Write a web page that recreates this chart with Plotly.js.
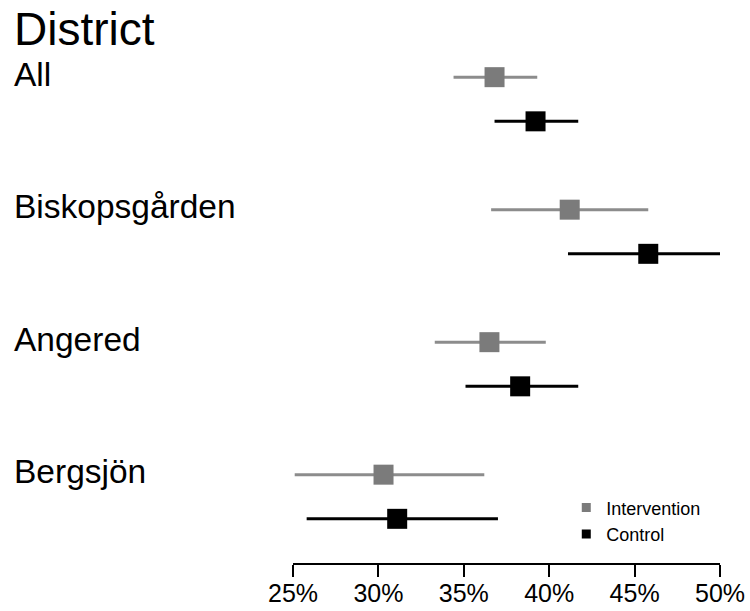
<!DOCTYPE html>
<html>
<head>
<meta charset="utf-8">
<script src="https://cdn.plot.ly/plotly-3.0.1.min.js"></script>
<style>html,body{margin:0;padding:0;background:#fff;}#chart{width:750px;height:611px;}</style>
</head>
<body>
<div id="chart"></div>
<script>
// Data (percent)
const districts = ['All', 'Biskopsgården', 'Angered', 'Bergsjön'];
const interventionEst  = [36.8, 41.2, 36.5, 30.3];
const interventionLow  = [34.4, 36.6, 33.3, 25.1];
const interventionHigh = [39.3, 45.8, 39.8, 36.2];
const controlEst  = [39.2, 45.8, 38.3, 31.1];
const controlLow  = [36.8, 41.1, 35.1, 25.8];
const controlHigh = [41.7, 50.0, 41.7, 37.0];
const xTicks = [25, 30, 35, 40, 45, 50];

const FONT = 'Liberation Sans, Arial, sans-serif';
const GREY = '#7b7b7b';
const GREY_LINE = '#8c8c8c';

const rowI = districts.map((d, i) => 3 * i);
const rowC = districts.map((d, i) => 3 * i + 1);

function seriesTrace(name, est, low, high, rows, markerColor, lineColor) {
  return {
    type: 'scatter', mode: 'markers', name: name, showlegend: false,
    x: est, y: rows, cliponaxis: false,
    marker: {symbol: 'square', size: 20, color: markerColor, line: {width: 0}},
    error_x: {
      type: 'data', symmetric: false,
      array: high.map((h, i) => h - est[i]),
      arrayminus: low.map((l, i) => est[i] - l),
      color: lineColor, thickness: 3, width: 0
    },
    hoverinfo: 'skip'
  };
}

const traces = [
  seriesTrace('Intervention', interventionEst, interventionLow, interventionHigh, rowI, GREY, GREY_LINE),
  seriesTrace('Control', controlEst, controlLow, controlHigh, rowC, '#000', '#000'),
  {type: 'scatter', mode: 'markers', name: 'Intervention', x: [null], y: [null],
   marker: {symbol: 'square', size: 9, color: GREY}, showlegend: true},
  {type: 'scatter', mode: 'markers', name: 'Control', x: [null], y: [null],
   marker: {symbol: 'square', size: 9, color: '#000'}, showlegend: true}
];

const annotations = [{
  text: 'District', xref: 'paper', yref: 'paper', x: -0.657, y: 1.008,
  xanchor: 'left', yanchor: 'middle', showarrow: false,
  font: {family: FONT, size: 46, color: '#000'}
}].concat(districts.map((d, i) => ({
  text: d, xref: 'paper', yref: 'y', x: -0.657, y: rowI[i],
  xanchor: 'left', yanchor: 'middle', yshift: 3, showarrow: false,
  font: {family: FONT, size: 33.5, color: '#000'}
})));

const layout = {
  width: 750, height: 611,
  margin: {l: 293, r: 30, t: 33, b: 48},
  paper_bgcolor: '#fff', plot_bgcolor: '#fff',
  font: {family: FONT, color: '#000'},
  showlegend: true,
  legend: {
    x: 0.64, y: 0.139, xanchor: 'left', yanchor: 'top',
    font: {family: FONT, size: 18, color: '#000'},
    bgcolor: 'rgba(0,0,0,0)', tracegroupgap: 0, itemwidth: 30
  },
  xaxis: {
    range: [25, 50], tickvals: xTicks, ticktext: xTicks.map(v => v + '%'),
    showgrid: false, zeroline: false, showline: true, linecolor: '#000', linewidth: 2,
    ticks: 'outside', ticklen: 12, tickwidth: 2, tickcolor: '#000',
    ticklabelstandoff: -5,
    tickfont: {family: FONT, size: 25, color: '#000'}, fixedrange: true
  },
  yaxis: {
    range: [11, -1], showgrid: false, zeroline: false, showline: false,
    showticklabels: false, ticks: '', fixedrange: true
  },
  annotations: annotations
};

Plotly.newPlot('chart', traces, layout, {staticPlot: true, displayModeBar: false});
</script>
</body>
</html>
